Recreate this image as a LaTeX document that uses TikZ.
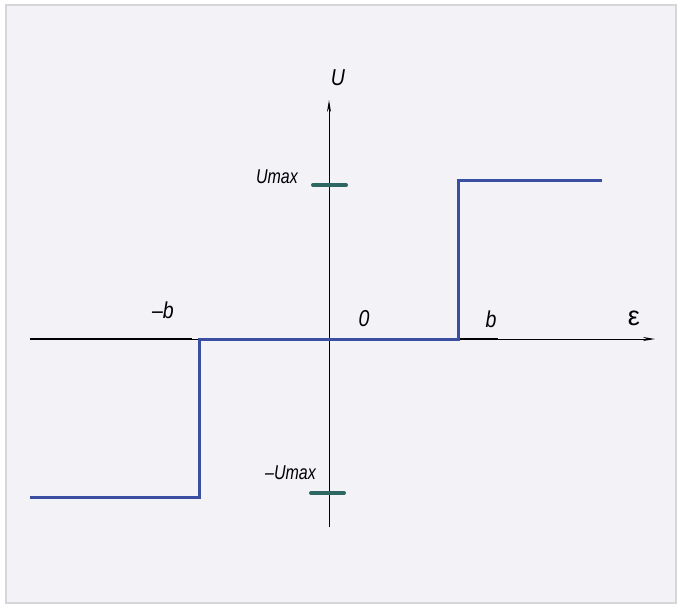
\documentclass[tikz,border=0pt]{standalone}
\usepackage{fontspec}
\setmainfont{Liberation Sans}
\usetikzlibrary{arrows.meta}
\definecolor{bgfill}{HTML}{F3F2F7}
\definecolor{bordergray}{HTML}{D6D6D8}
\definecolor{curveblue}{HTML}{3A4FA2}
\definecolor{tickteal}{HTML}{2E6661}
\tikzset{
  axisline/.style={black, line width=1pt, -{Stealth[length=12pt,width=4pt]}},
  thickpart/.style={black, line width=1.8pt},
  curve/.style={curveblue, line width=3pt, line join=miter},
  tickmark/.style={tickteal, line width=4pt, line cap=round},
  lbl/.style={inner sep=0pt, font=\fontsize{23}{26}\selectfont\itshape},
  lblsmall/.style={inner sep=0pt, font=\fontsize{20}{23}\selectfont\itshape},
}
\begin{document}
\begin{tikzpicture}[x=1pt,y=-1pt]
\useasboundingbox (0,0) rectangle (682,610);
\fill[white] (0,0) rectangle (682,610);
\draw[bordergray, line width=2pt, fill=bgfill] (6,5) rectangle (676,603);
% axes
\coordinate (xs) at (30,339);
\coordinate (xe) at (655,339);
\coordinate (ys) at (329,527);
\coordinate (ye) at (329,100);
\draw[axisline] (xs) -- (xe);
\draw[axisline] (ys) -- (ye);
\draw[thickpart] (30,339) -- (192,339);
\draw[thickpart] (458,339) -- (498,339);
% ticks
\coordinate (t1a) at (313,185);
\coordinate (t1b) at (346,185);
\coordinate (t2a) at (311,493);
\coordinate (t2b) at (344,493);
\draw[tickmark] (t1a) -- (t1b);
\draw[tickmark] (t2a) -- (t2b);
% curve
\coordinate (c0) at (30,497);
\coordinate (c1) at (199,497);
\coordinate (c2) at (199,339);
\coordinate (c3) at (458,339);
\coordinate (c4) at (458,180);
\coordinate (c5) at (602,180);
\draw[curve] (c0) -- (c1) -- (c2) -- (c3) -- (c4) -- (c5);
% labels
\node[lbl] (lU) at (338,78) {\scalebox{0.85}[1]{U}};
\node[lblsmall, anchor=east] (lUmax) at (298,177) {\scalebox{0.8}[1]{Umax}};
\node[lblsmall, anchor=east] (lmUmax) at (316,473) {\scalebox{0.8}[1]{\textendash Umax}};
\node[lbl] (lmb) at (163,310) {\scalebox{0.85}[1]{\textendash b}};
\node[lbl] (l0) at (364,319) {\scalebox{0.85}[1]{0}};
\node[lbl] (lb) at (491,319) {\scalebox{0.85}[1]{b}};
\node[inner sep=0pt, font=\fontsize{27}{29}\selectfont] (leps) at (634,318) {ε};
\end{tikzpicture}
\end{document}
